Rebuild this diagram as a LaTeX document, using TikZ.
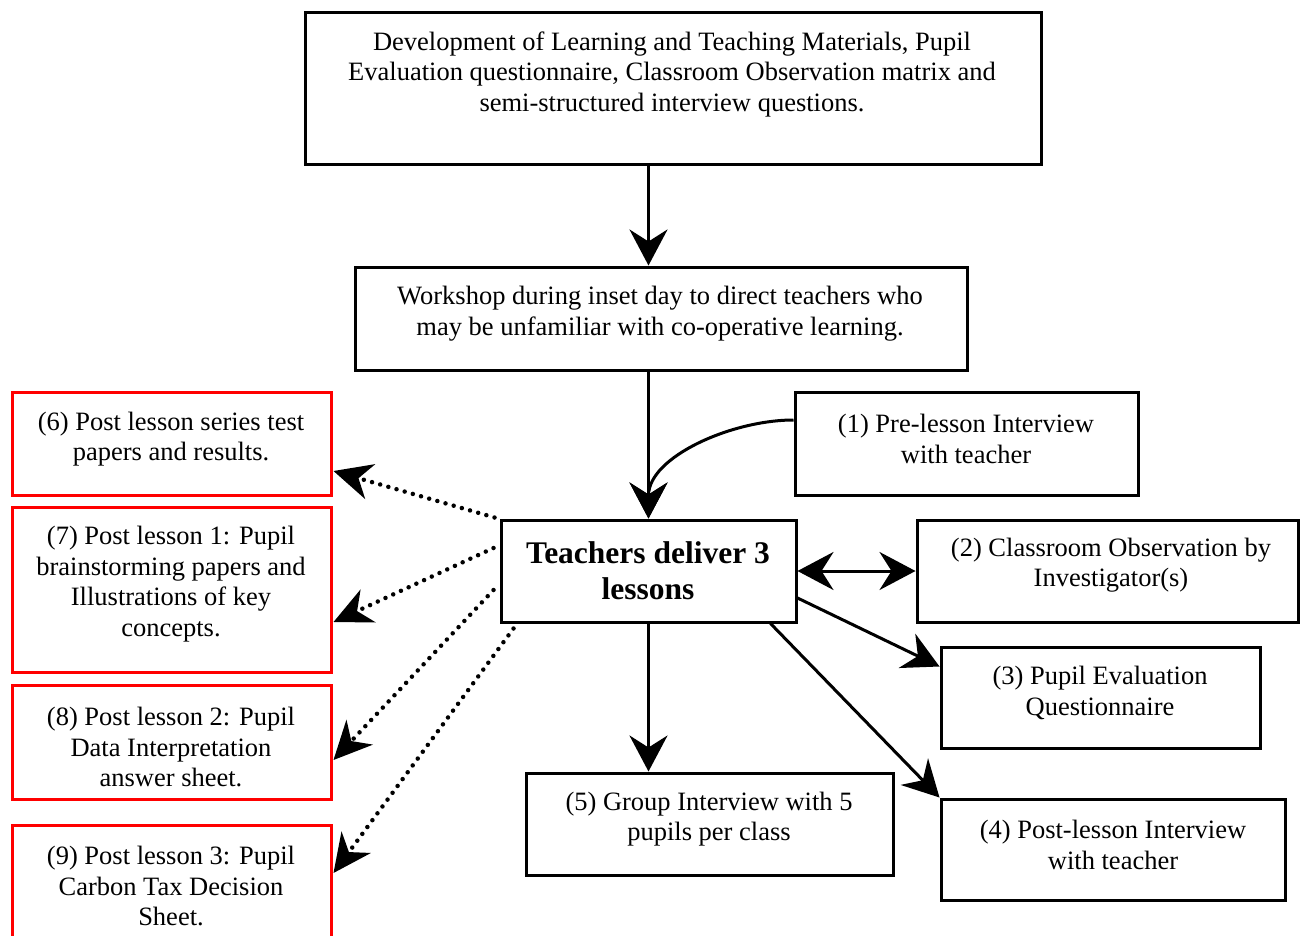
\documentclass[tikz,border=0pt]{standalone}
\usepackage{fontspec}
\setmainfont{Liberation Serif}
\usetikzlibrary{arrows.meta}
\begin{document}
\begin{tikzpicture}[x=1pt,y=-1pt,
  box/.style={draw=black, line width=3pt, rectangle, inner sep=0pt},
  redbox/.style={box, draw=red},
  txt/.style={align=center, inner sep=0pt, font=\fontsize{26.5}{30.5}\selectfont},
  bigtxt/.style={align=center, inner sep=0pt, font=\fontsize{31.5}{36}\selectfont\bfseries},
  arr/.style={line width=3pt, -{Stealth[length=36pt,width=38pt,inset=12pt]}},
  dblarr/.style={line width=3pt, {Stealth[length=36pt,width=38pt,inset=12pt]}-{Stealth[length=36pt,width=38pt,inset=12pt]}},
  dots/.style={line width=4.5pt, line cap=round, dash pattern=on 0pt off 8.5pt,
    -{Stealth[length=38pt,width=36pt,inset=12pt]}}
]
\useasboundingbox (0,0) rectangle (1300,936);
\clip (0,0) rectangle (1300,936);

% boxes
\node[box, minimum width=736pt, minimum height=152pt] (top) at (673,89) {};
\node[box, minimum width=612pt, minimum height=103pt] (ws) at (661,318.5) {};
\node[box, minimum width=343pt, minimum height=103pt] (p1) at (966.5,443.5) {};
\node[box, minimum width=295pt, minimum height=102pt] (tch) at (648.5,571) {};
\node[box, minimum width=381pt, minimum height=102pt] (p2) at (1107.5,571) {};
\node[box, minimum width=319pt, minimum height=101pt] (p3) at (1100.5,697.5) {};
\node[box, minimum width=344pt, minimum height=101pt] (p4) at (1113,849.5) {};
\node[box, minimum width=367pt, minimum height=102pt] (p5) at (709.5,824) {};
\node[redbox, minimum width=319pt, minimum height=103pt] (p6) at (171.5,443.5) {};
\node[redbox, minimum width=319pt, minimum height=165pt] (p7) at (171.5,589.5) {};
\node[redbox, minimum width=319pt, minimum height=114pt] (p8) at (171.5,742) {};
\node[redbox, minimum width=319pt, minimum height=135pt] (p9) at (171.5,892.5) {};

% texts
\node[txt] (top-t) at (672,74) {Development of Learning and Teaching Materials, Pupil\\Evaluation questionnaire, Classroom Observation matrix and\\semi-structured interview questions.};
\node[txt] (ws-t) at (660,313.5) {Workshop during inset day to direct teachers who\\may be unfamiliar with co-operative learning.};
\node[txt] (p1-t) at (966,439) {(1) Pre-lesson Interview\\with teacher};
\node[bigtxt] (tch-t) at (648,571) {Teachers deliver 3\\lessons};
\node[txt] (p2-t) at (1111,565) {(2) Classroom Observation by\\Investigator(s)};
\node[txt] (p3-t) at (1100,693) {(3) Pupil Evaluation\\Questionnaire};
\node[txt] (p4-t) at (1113,845) {(4) Post-lesson Interview\\with teacher};
\node[txt] (p5-t) at (709,819) {(5) Group Interview with 5\\pupils per class};
\node[txt] (p6-t) at (171,439) {(6) Post lesson series test\\papers and results.};
\node[txt] (p7-t) at (171,584) {(7) Post lesson 1: Pupil\\brainstorming papers and\\Illustrations of key\\concepts.};
\node[txt] (p8-t) at (171,747) {(8) Post lesson 2: Pupil\\Data Interpretation\\answer sheet.};
\node[txt] (p9-t) at (171,886) {(9) Post lesson 3: Pupil\\Carbon Tax Decision\\Sheet.};

% main flow
\draw[arr] (top.south -| tch) -- (ws.north -| tch);
\draw[arr] (ws.south -| tch) -- (tch.north);
\draw[arr] ([yshift=23.5pt]p1.west) to[out=180,in=90,looseness=0.9] (tch.north);
\draw[dblarr] (tch.east) -- (p2.west);
\draw[arr] ([yshift=-27pt]tch.east) -- ([yshift=-21pt]p3.north west);
\draw[arr] ([xshift=-27pt]tch.south east) -- (p4.north west);
\draw[arr] (tch.south) -- (p5.north -| tch);

% outputs collected after the lessons
\draw[dots] ([xshift=-5pt,yshift=1pt]tch.north west) -- ([xshift=1pt,yshift=-27.5pt]p6.east);
\draw[dots] ([xshift=-6pt,yshift=23pt]tch.west) -- ([xshift=1pt,yshift=-32.5pt]p7.east);
\draw[dots] ([xshift=-6pt,yshift=-19pt]tch.west) -- ([xshift=1pt,yshift=-18pt]p8.east);
\draw[dots] ([xshift=14pt,yshift=-5pt]tch.south west) -- ([xshift=1pt,yshift=19.5pt]p9.east);
\end{tikzpicture}
\end{document}
